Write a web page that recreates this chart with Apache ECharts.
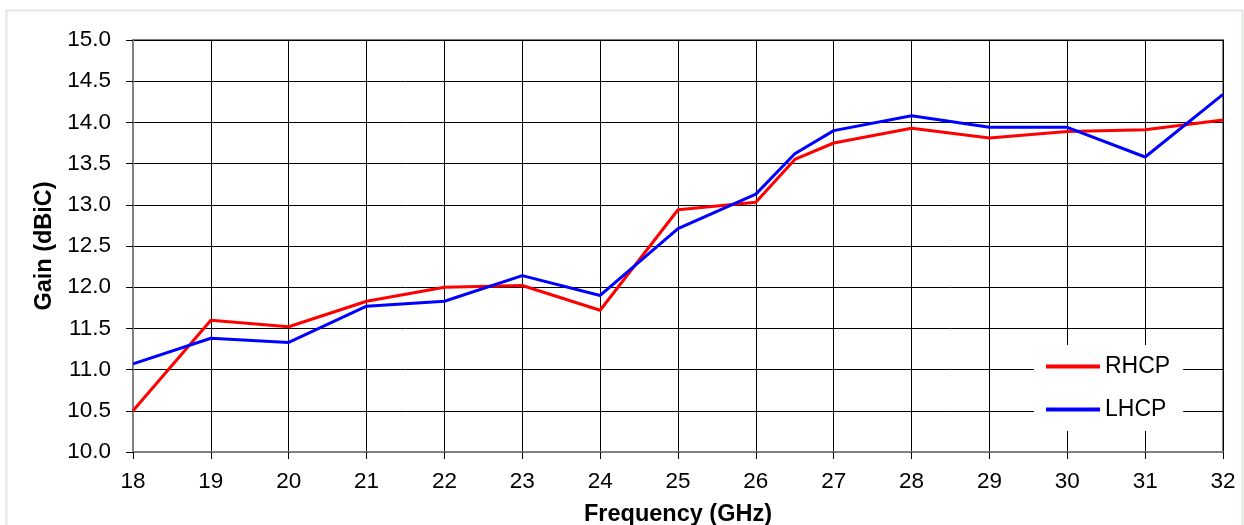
<!DOCTYPE html>
<html>
<head>
<meta charset="utf-8">
<script src="https://cdn.jsdelivr.net/npm/echarts@6/dist/echarts.min.js"></script>
<style>
html,body{margin:0;padding:0;background:#fff;}
#chart{width:1244px;height:525px;}
</style>
</head>
<body>
<div id="chart"></div>
<script>
var freq = [18, 19, 20, 21, 22, 23, 24, 25, 26, 26.5, 27, 28, 29, 30, 31, 32];
var rhcp = [10.50, 11.60, 11.52, 11.83, 12.00, 12.02, 11.72, 12.94, 13.03, 13.55, 13.75, 13.93, 13.81, 13.89, 13.91, 14.03];
var lhcp = [11.07, 11.38, 11.33, 11.77, 11.83, 12.14, 11.90, 12.71, 13.13, 13.62, 13.90, 14.08, 13.94, 13.94, 13.58, 14.34];
var seriesNames = ['RHCP', 'LHCP'];
var xTitle = 'Frequency (GHz)';
var yTitle = 'Gain (dBiC)';

function pairs(xs, ys) { return xs.map(function (x, i) { return [x, ys[i]]; }); }

var chart = echarts.init(document.getElementById('chart'), null, { renderer: 'canvas' });
var font = 'Liberation Sans, Arial, sans-serif';
chart.setOption({
  animation: false,
  backgroundColor: '#fff',
  graphic: [{
    type: 'rect', left: 4, top: 8, z: -10,
    shape: { width: 1236, height: 530 },
    style: { fill: 'none', stroke: '#e3e8e3', lineWidth: 2 }
  }],
  grid: { left: 133, right: 21, top: 40, bottom: 73, containLabel: false, outerBoundsMode: 'none', show: true, borderColor: '#808080', borderWidth: 2, backgroundColor: 'transparent' },
  legend: {
    orient: 'vertical', left: 1034, top: 345,
    backgroundColor: '#fff', padding: [10, 13, 10, 12], itemGap: 20,
    itemWidth: 54, itemHeight: 4, icon: 'rect',
    textStyle: { fontFamily: font, fontSize: 23, color: '#000' },
    data: seriesNames
  },
  xAxis: {
    type: 'value', min: 18, max: 32, interval: 1,
    name: xTitle, nameLocation: 'middle', nameGap: 51,
    nameTextStyle: { fontFamily: font, fontSize: 23.5, fontWeight: 'bold', color: '#000' },
    axisLine: { show: true, lineStyle: { color: '#808080', width: 2 } },
    axisTick: { show: true, inside: false, length: 7, lineStyle: { color: '#000' } },
    axisLabel: { fontFamily: font, fontSize: 22.5, color: '#000', margin: 18.5 },
    splitLine: { show: true, lineStyle: { color: '#000', width: 1 } }
  },
  yAxis: {
    type: 'value', min: 10, max: 15, interval: 0.5,
    name: yTitle, nameLocation: 'middle', nameGap: 76, nameRotate: 90,
    nameTextStyle: { fontFamily: font, fontSize: 23.5, fontWeight: 'bold', color: '#000' },
    axisLine: { show: true, lineStyle: { color: '#808080', width: 2 } },
    axisTick: { show: true, inside: false, length: 7, lineStyle: { color: '#000' } },
    axisLabel: { fontFamily: font, fontSize: 22.5, color: '#000', margin: 22, formatter: function (v) { return v.toFixed(1); } },
    splitLine: { show: true, lineStyle: { color: '#000', width: 1 } }
  },
  series: [
    { name: seriesNames[0], type: 'line', data: pairs(freq, rhcp), showSymbol: false, symbol: 'none', color: '#ff0000', lineStyle: { color: '#ff0000', width: 3 }, z: 3 },
    { name: seriesNames[1], type: 'line', data: pairs(freq, lhcp), showSymbol: false, symbol: 'none', color: '#0000ff', lineStyle: { color: '#0000ff', width: 3 }, z: 4 }
  ]
});
</script>
</body>
</html>
